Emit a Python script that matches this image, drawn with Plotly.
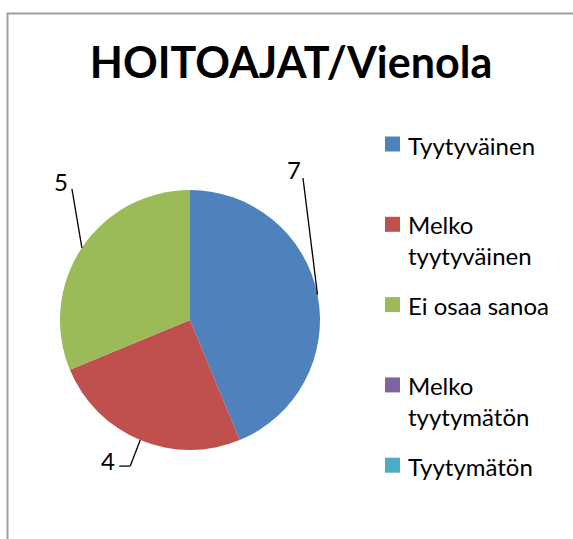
import math
import plotly.graph_objects as go

# ---- data ----
categories = ["Tyytyväinen", "Melko tyytyväinen", "Ei osaa sanoa", "Melko tyytymätön", "Tyytymätön"]
values = [7, 4, 5, 0, 0]
colors = ["#4F81BD", "#C0504D", "#9BBB59", "#8064A2", "#4BACC6"]
title_text = "HOITOAJAT/Vienola"

# ---- layout constants (pixels) ----
W, H = 573, 539
CX, CY, R = 190, 320, 130          # pie centre / radius
FONT = "Lato"
LEG_X0, LEG_Y0, LEG_STEP, LEG_BOX = 385, 144, 80.3, 15
LEG_TEXT_X, LEG_FS, LEG_LINE = 406, 24, 30

def px(x):
    return x / W

def py(y):
    return 1 - y / H

fig = go.Figure()
fig.add_trace(go.Pie(
    labels=categories,
    values=values,
    sort=False,
    direction="clockwise",
    rotation=0,
    marker=dict(colors=colors, line=dict(width=0)),
    textinfo="none",
    hoverinfo="skip",
    showlegend=False,
    domain=dict(x=[px(CX - R), px(CX + R)], y=[py(CY + R), py(CY - R)]),
))

# leader lines: bends relative to the slice edge point, label offset relative to line end
leader_bends = {
    0: [(-14.5, -116.5)],
    1: [(-10, 26), (-21, 26)],
    2: [(-10, -59)],
}
label_offset = {0: (-9.5, -10.5), 1: (-11, -7), 2: (-10.5, -8.5)}

total = sum(values)
cum = 0
shapes = []
annotations = []
for i, v in enumerate(values):
    if v > 0 and i in leader_bends:
        mid = (cum + v / 2) / total * 2 * math.pi
        ex = CX + R * math.sin(mid)
        ey = CY - R * math.cos(mid)
        pts = [(ex, ey)] + [(ex + dx, ey + dy) for dx, dy in leader_bends[i]]
        for (x0, y0), (x1, y1) in zip(pts[:-1], pts[1:]):
            shapes.append(dict(type="line", xref="paper", yref="paper",
                               x0=px(x0), y0=py(y0), x1=px(x1), y1=py(y1),
                               line=dict(color="black", width=1.3)))
        lx, ly = pts[-1]
        ox, oy = label_offset[i]
        annotations.append(dict(text=str(v), x=px(lx + ox), y=py(ly + oy + 1.5),
                                xref="paper", yref="paper", showarrow=False,
                                xanchor="center", yanchor="middle",
                                font=dict(family=FONT, size=24, color="black")))
    cum += v

# legend drawn manually (keeps zero-value entries and the original spacing)
for i, (name, col) in enumerate(zip(categories, colors)):
    yc = LEG_Y0 + i * LEG_STEP
    shapes.append(dict(type="rect", xref="paper", yref="paper",
                       x0=px(LEG_X0), x1=px(LEG_X0 + LEG_BOX),
                       y0=py(yc + LEG_BOX / 2), y1=py(yc - LEG_BOX / 2),
                       fillcolor=col, line=dict(width=0)))
    txt = name.replace("Melko ", "Melko<br>")
    nlines = txt.count("<br>") + 1
    annotations.append(dict(text=txt, x=px(LEG_TEXT_X), y=py(yc + (nlines - 1) * LEG_LINE / 2 + 1),
                            xref="paper", yref="paper", showarrow=False,
                            xanchor="left", yanchor="middle", align="left",
                            font=dict(family=FONT, size=LEG_FS, color="black")))

# chart border (left + top visible)
shapes.append(dict(type="rect", xref="paper", yref="paper",
                   x0=px(7.5), x1=px(W + 20), y0=py(H + 20), y1=py(13.5),
                   line=dict(color="#A0A0A0", width=2)))

fig.update_layout(
    width=W, height=H,
    margin=dict(l=0, r=0, t=0, b=0),
    paper_bgcolor="white",
    plot_bgcolor="white",
    title=dict(text=f"<b>{title_text}</b>", x=px(291), xanchor="center",
               y=py(63), yanchor="middle",
               font=dict(family=FONT, size=43, color="black")),
    showlegend=False,
    shapes=shapes,
    annotations=annotations,
)

fig.write_html("out.html", config={"displayModeBar": False},
               post_script="document.body.style.margin='0';")
